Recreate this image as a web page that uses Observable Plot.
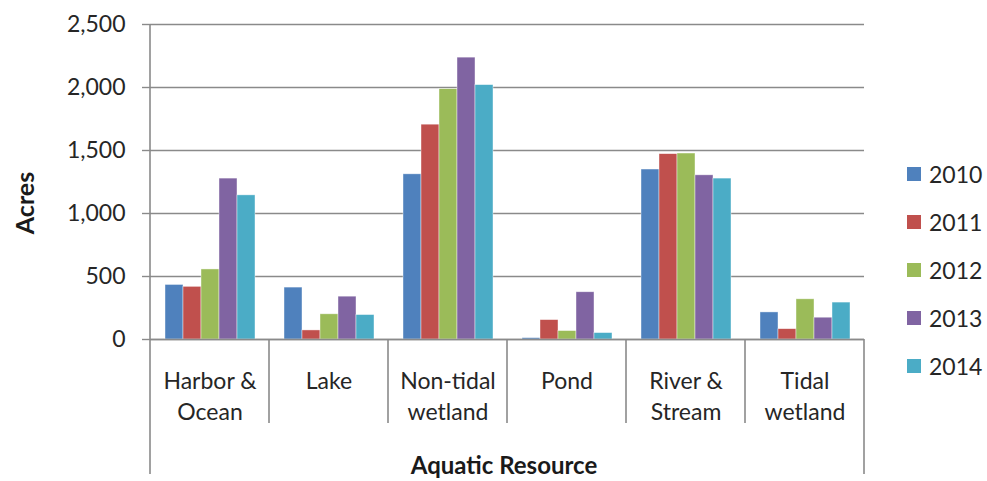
<!DOCTYPE html>
<html><head><meta charset="utf-8">
<script src="https://cdn.jsdelivr.net/npm/d3@7"></script>
<script src="https://cdn.jsdelivr.net/npm/@observablehq/plot@0.6"></script>
<style>
body{margin:0;background:#fff;font-family:Lato,sans-serif;}
#wrap{position:relative;width:987px;height:481px;overflow:hidden;}
#legend{position:absolute;left:907px;top:150px;font-family:Lato,sans-serif;font-size:23px;color:#262626;}
#legend .row{display:flex;align-items:center;height:48px;}
#legend .sw{width:14px;height:14px;margin-right:8px;}
</style></head><body><div id="wrap"></div>
<script>
const categories = ["Harbor & Ocean","Lake","Non-tidal wetland","Pond","River & Stream","Tidal wetland"];
const categoryLabels = ["Harbor &\nOcean","Lake","Non-tidal\nwetland","Pond","River &\nStream","Tidal\nwetland"];
const years = ["2010","2011","2012","2013","2014"];
const colors = ["#4F81BD","#C0504D","#9BBB59","#8064A2","#4BACC6"];
const v2010 = [433, 412, 1311, 11, 1349, 215];
const v2011 = [418, 72, 1705, 154, 1471, 82];
const v2012 = [556, 200, 1987, 67, 1476, 319];
const v2013 = [1277, 340, 2237, 375, 1303, 173];
const v2014 = [1144, 194, 2019, 51, 1277, 293];
const yTicks = [0, 500, 1000, 1500, 2000, 2500];
const xTitle = "Aquatic Resource";
const yTitle = "Acres";

const series = [v2010, v2011, v2012, v2013, v2014];
const data = categories.flatMap((c, i) => years.map((y, j) => ({category: c, year: y, value: series[j][i]})));
const labelOf = new Map(categories.map((c, i) => [c, categoryLabels[i]]));

const gray = "#8a8a8a";
const plot = Plot.plot({
  width: 987, height: 481,
  marginLeft: 150, marginRight: 123, marginTop: 24, marginBottom: 142,
  style: {fontFamily: "Lato, sans-serif", fontSize: "23px", color: "#262626", background: "#fff", overflow: "visible"},
  fx: {domain: categories, padding: 0, axis: null, label: null},
  x: {domain: years, paddingInner: 0, paddingOuter: 0.74, axis: null, label: null},
  y: {domain: [0, 2500], label: null},
  color: {domain: years, range: colors},
  marks: [
    Plot.gridY(yTicks, {stroke: gray, strokeOpacity: 1, strokeWidth: 1.4}),
    Plot.barY(data, {fx: "category", x: "year", y: "value", fill: "year", stroke: "#fff", strokeWidth: 0.7, strokeOpacity: 0.6}),
    Plot.ruleY([0], {stroke: gray, strokeWidth: 1.6}),
    Plot.axisY(yTicks, {anchor: "left", tickSize: 8, tickPadding: 17, tickFormat: d3.format(","), stroke: gray, strokeWidth: 1.4, color: "#262626", fontSize: 23, label: null}),
    Plot.text(categories, {fx: d => d, text: d => labelOf.get(d), frameAnchor: "bottom", lineAnchor: "top", dy: 27, lineHeight: 1.35, fontSize: 23, fill: "#262626"})
  ]
});

const wrap = document.getElementById("wrap");
wrap.appendChild(plot);

// axis lines and category separators from the library's scales
const fx = plot.scale("fx");
const ys = plot.scale("y");
const svg = d3.select(plot);
const y0 = ys.apply(0), yTop = ys.apply(2500);
const bottomOuter = 474, bottomInner = 423;
const edges = categories.map(c => fx.apply(c));
edges.push(fx.apply(categories[categories.length - 1]) + fx.bandwidth);
const g = svg.append("g").attr("stroke", gray).attr("stroke-width", 1.6);
edges.forEach((x, i) => {
  const outer = i === 0 || i === edges.length - 1;
  g.append("line").attr("x1", x).attr("x2", x)
    .attr("y1", i === 0 ? yTop : y0)
    .attr("y2", outer ? bottomOuter : bottomInner);
});
const midX = (edges[0] + edges[edges.length - 1]) / 2;
svg.append("text").attr("x", midX - 3).attr("y", 474).attr("text-anchor", "middle")
  .attr("font-family", "Lato, sans-serif").attr("font-size", 24).attr("font-weight", "bold").attr("fill", "#1a1a1a").text(xTitle);
svg.append("text").attr("transform", "translate(34,203) rotate(-90)").attr("text-anchor", "middle")
  .attr("font-family", "Lato, sans-serif").attr("font-size", 25).attr("font-weight", "bold").attr("fill", "#1a1a1a").text(yTitle);

// legend
const legend = document.createElement("div");
legend.id = "legend";
const color = plot.scale("color");
years.forEach(y => {
  const row = document.createElement("div"); row.className = "row";
  const sw = document.createElement("div"); sw.className = "sw"; sw.style.background = color.apply(y);
  const t = document.createElement("span"); t.textContent = y;
  row.appendChild(sw); row.appendChild(t); legend.appendChild(row);
});
wrap.appendChild(legend);
</script></body></html>
